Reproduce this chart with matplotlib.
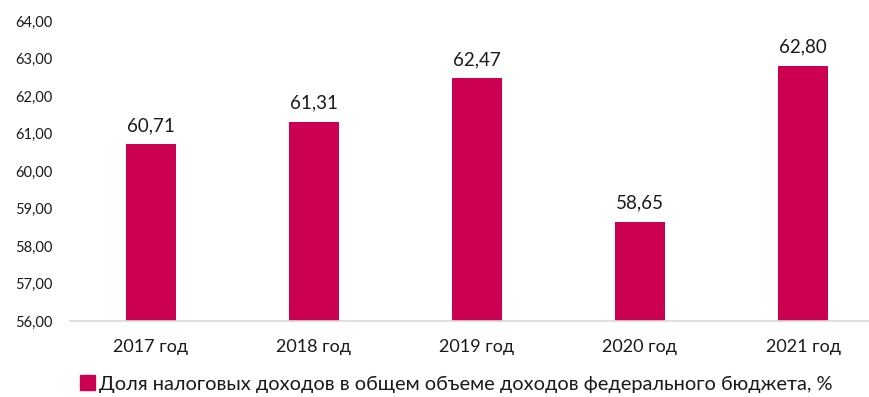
import matplotlib
matplotlib.use("Agg")
import matplotlib.pyplot as plt
import matplotlib.patches as mpatches

# Share of tax revenue in federal budget revenue, %
years = ["2017 год", "2018 год", "2019 год", "2020 год", "2021 год"]
shares = [60.71, 61.31, 62.47, 58.65, 62.80]
y_ticks = [56, 57, 58, 59, 60, 61, 62, 63, 64]
legend_label = "Доля налоговых доходов в общем объеме доходов федерального бюджета, %"

bar_colour = "#CC0052"
text_colour = "#1a1a1a"
plt.rcParams["font.family"] = ["Lato", "DejaVu Sans"]

def fmt(v):
    return f"{v:.2f}".replace(".", ",")

fig = plt.figure(figsize=(8.7, 3.97), dpi=100)
ax = fig.add_axes([69.5 / 870, 76 / 397, 815 / 870, 300 / 397])

x = range(len(years))
bars = ax.bar(x, shares, width=0.31, color=bar_colour, bottom=0)
ax.set_ylim(56, 64)
ax.set_xlim(-0.5, len(years) - 0.5)

for xi, v in zip(x, shares):
    ax.text(xi, v + 0.28, fmt(v), ha="center", va="bottom", fontsize=13.5, color=text_colour)

ax.set_yticks(y_ticks)
ax.set_yticklabels([fmt(t) for t in y_ticks], fontsize=10.5, color=text_colour)
ax.set_xticks(list(x))
ax.set_xticklabels(years, fontsize=13, color=text_colour)
ax.tick_params(axis="both", length=0)
ax.tick_params(axis="y", pad=12)
ax.tick_params(axis="x", pad=13)

for side in ["top", "right", "left"]:
    ax.spines[side].set_visible(False)
ax.spines["bottom"].set_color("#d9d9d9")
ax.spines["bottom"].set_linewidth(1.2)

handle = mpatches.Patch(color=bar_colour, label=legend_label)
fig.legend(handles=[handle], loc="center", bbox_to_anchor=(456 / 870, 1 - 384 / 397),
           frameon=False, fontsize=14.4, handlelength=0.75, handleheight=0.75,
           handletextpad=0.2, labelcolor=text_colour)

fig.savefig("out.png", dpi=100)
